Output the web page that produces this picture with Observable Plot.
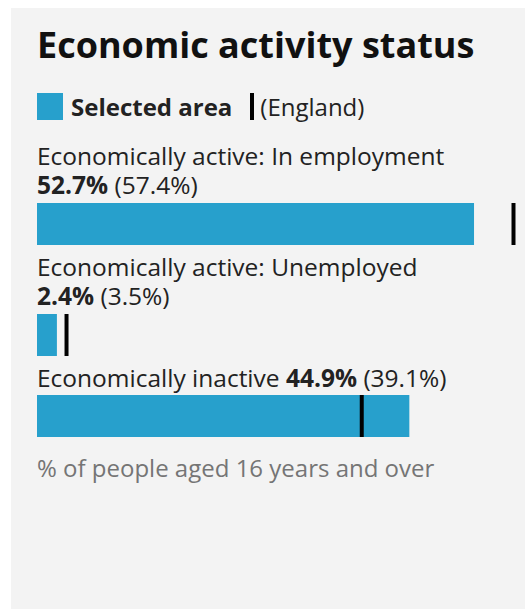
<!DOCTYPE html>
<html>
<head>
<meta charset="utf-8">
<script src="https://cdn.jsdelivr.net/npm/d3@7"></script>
<script src="https://cdn.jsdelivr.net/npm/@observablehq/plot@0.6"></script>
<style>
  html, body { margin: 0; padding: 0; background: #fff; }
  body { width: 525px; height: 609px; position: relative; overflow: hidden; font-family: "Open Sans", sans-serif; color: #222; }
  #panel { position: absolute; left: 11px; top: 8px; width: 514px; height: 601px; background: #f3f3f3; }
  .title { font-size: 36px; font-weight: 700; line-height: 44px; color: #111; margin: 14.5px 0 0 26px; white-space: nowrap; }
  .legend { display: flex; align-items: center; margin: 25.5px 0 19px 26px; font-size: 24px; line-height: 29.5px; height: 29.5px; }
  .swatch { width: 26px; height: 27px; background: #27a0cc; margin-right: 8px; }
  .legend b { font-weight: 700; }
  .mark { width: 4px; height: 27px; background: #000; margin-left: 18px; margin-right: 6px; }
  .label { font-size: 24.5px; line-height: 29.5px; margin: 0 0 0 26px; width: 475px; }
  .val { white-space: nowrap; }
  .val b { font-weight: 700; }
  .plot svg { display: block; }
  .caption { font-size: 24px; line-height: 29.5px; color: #757575; margin: 9px 0 0 26px; }
</style>
</head>
<body>
<div id="panel"></div>
<script>
const title = "Economic activity status";
const legendSelected = "Selected area";
const legendEngland = "(England)";
const categories = ["Economically active: In employment", "Economically active: Unemployed", "Economically inactive"];
const areaValues = [52.7, 2.4, 44.9];
const englandValues = [57.4, 3.5, 39.1];
const caption = "% of people aged 16 years and over";

const panel = document.getElementById("panel");
const t = document.createElement("div");
t.className = "title";
t.textContent = title;
panel.appendChild(t);

const lg = document.createElement("div");
lg.className = "legend";
lg.innerHTML = `<span class="swatch"></span><b>${legendSelected}</b><span class="mark"></span><span>${legendEngland}</span>`;
panel.appendChild(lg);

const xMax = d3.max([...areaValues, ...englandValues]);

categories.forEach((c, i) => {
  const lab = document.createElement("div");
  lab.className = "label";
  lab.innerHTML = `${c} <span class="val"><b>${areaValues[i].toFixed(1)}%</b> (${englandValues[i].toFixed(1)}%)</span>`;
  panel.appendChild(lab);
  const row = [{cat: c, v: areaValues[i], e: englandValues[i]}];
  const p = Plot.plot({
    width: 514,
    height: 52,
    marginLeft: 26,
    marginRight: 12,
    marginTop: 3,
    marginBottom: 7,
    x: {domain: [0, xMax], axis: null},
    style: {background: "transparent", overflow: "visible"},
    marks: [
      Plot.barX(row, {x: "v", fill: "#27a0cc", insetTop: 0, insetBottom: 0}),
      Plot.ruleX(row, {x: "e", stroke: "#000", strokeWidth: 4})
    ]
  });
  const wrap = document.createElement("div");
  wrap.className = "plot";
  wrap.appendChild(p);
  panel.appendChild(wrap);
});

const cap = document.createElement("div");
cap.className = "caption";
cap.textContent = caption;
panel.appendChild(cap);
</script>
</body>
</html>
